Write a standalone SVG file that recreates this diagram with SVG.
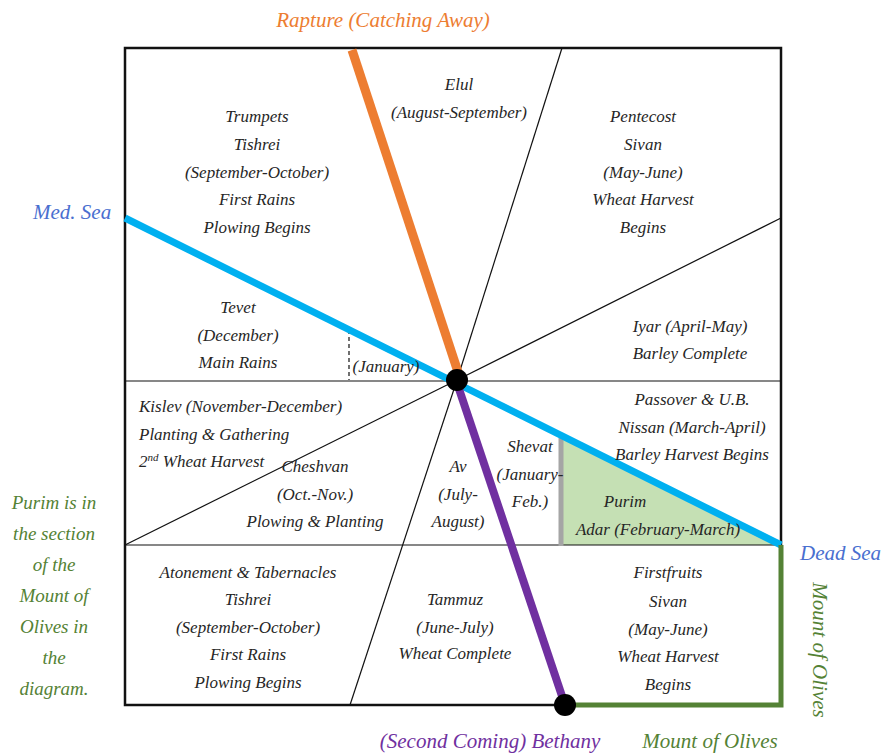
<svg xmlns="http://www.w3.org/2000/svg" width="884" height="754" viewBox="0 0 884 754">
<style>
text{font-family:"Liberation Serif","DejaVu Serif","Times New Roman",serif;font-style:italic}
.t{font-size:17px;fill:#262626;text-anchor:middle}
.l{text-anchor:start}
.big{font-size:21px}
.thin{stroke:#111;stroke-width:1.2;fill:none}
</style>
<rect width="884" height="754" fill="#fff"/>
<g id="connectors">
<polygon points="561,435 781,545 561,545" fill="#C5E0B4"/>
<rect x="125" y="48" width="656" height="657" fill="none" stroke="#111" stroke-width="2.5"/>
<line class="thin" x1="125" y1="381" x2="781" y2="381"/>
<line class="thin" x1="125" y1="545" x2="781" y2="545"/>
<line class="thin" x1="457" y1="380" x2="562" y2="48"/>
<line class="thin" x1="457" y1="380" x2="781" y2="218"/>
<line class="thin" x1="457" y1="380" x2="125" y2="545"/>
<line class="thin" x1="457" y1="380" x2="350" y2="705"/>
<line x1="349" y1="330" x2="349" y2="380" stroke="#111" stroke-width="1.2" stroke-dasharray="4,3"/>
<line x1="561" y1="438" x2="561" y2="546" stroke="#A5A5A5" stroke-width="5"/>
<line x1="125" y1="218" x2="781" y2="545" stroke="#00B0F0" stroke-width="7"/>
<line x1="352" y1="50" x2="459" y2="375" stroke="#ED7D31" stroke-width="9"/>
<line x1="457" y1="383" x2="565" y2="705" stroke="#7030A0" stroke-width="8"/>
<polyline points="565,705 781,705 781,545" fill="none" stroke="#548235" stroke-width="5"/>
<circle cx="457" cy="380" r="11" fill="#000"/>
<circle cx="565" cy="705" r="11" fill="#000"/>
</g>
<g id="elul"><text class="t" x="459" y="90">Elul</text><text class="t" x="459" y="118">(August-September)</text></g>
<g id="trumpets"><text class="t" x="257" y="122">Trumpets</text><text class="t" x="257" y="150">Tishrei</text><text class="t" x="257" y="178">(September-October)</text><text class="t" x="257" y="205">First Rains</text><text class="t" x="257" y="233">Plowing Begins</text></g>
<g id="tevet"><text class="t" x="238" y="313">Tevet</text><text class="t" x="238" y="341">(December)</text><text class="t" x="238" y="368">Main Rains</text></g>
<g id="january"><text class="t" x="386" y="372">(January)</text></g>
<g id="pentecost"><text class="t" x="643" y="122">Pentecost</text><text class="t" x="643" y="150">Sivan</text><text class="t" x="643" y="178">(May-June)</text><text class="t" x="643" y="205">Wheat Harvest</text><text class="t" x="643" y="233">Begins</text></g>
<g id="iyar"><text class="t" x="690" y="332">Iyar (April-May)</text><text class="t" x="690" y="359">Barley Complete</text></g>
<g id="kislev"><text class="t l" x="139" y="412">Kislev (November-December)</text><text class="t l" x="139" y="440">Planting &amp; Gathering</text><text class="t l" x="139" y="467">2<tspan font-size="11" dy="-6">nd</tspan><tspan dy="6"> Wheat Harvest</tspan></text></g>
<g id="cheshvan"><text class="t" x="315" y="472">Cheshvan</text><text class="t" x="315" y="500">(Oct.-Nov.)</text><text class="t" x="315" y="527">Plowing &amp; Planting</text></g>
<g id="av"><text class="t" x="458" y="472">Av</text><text class="t" x="458" y="500">(July-</text><text class="t" x="458" y="527">August)</text></g>
<g id="shevat"><text class="t" x="530" y="452">Shevat</text><text class="t" x="530" y="480">(January-</text><text class="t" x="530" y="507">Feb.)</text></g>
<g id="passover"><text class="t" x="692" y="405">Passover &amp; U.B.</text><text class="t" x="692" y="433">Nissan (March-April)</text><text class="t" x="692" y="460">Barley Harvest Begins</text></g>
<g id="purim"><text class="t" x="625" y="507">Purim</text><text class="t" x="658" y="535">Adar (February-March)</text></g>
<g id="atonement"><text class="t" x="248" y="578">Atonement &amp; Tabernacles</text><text class="t" x="248" y="605">Tishrei</text><text class="t" x="248" y="633">(September-October)</text><text class="t" x="248" y="660">First Rains</text><text class="t" x="248" y="688">Plowing Begins</text></g>
<g id="tammuz"><text class="t" x="455" y="605">Tammuz</text><text class="t" x="455" y="633">(June-July)</text><text class="t" x="455" y="659">Wheat Complete</text></g>
<g id="firstfruits"><text class="t" x="668" y="578">Firstfruits</text><text class="t" x="668" y="607">Sivan</text><text class="t" x="668" y="635">(May-June)</text><text class="t" x="668" y="662">Wheat Harvest</text><text class="t" x="668" y="690">Begins</text></g>
<g id="labels">
<text class="big" x="383" y="27" text-anchor="middle" fill="#ED7D31">Rapture (Catching Away)</text>
<text class="big" x="33" y="219" fill="#4A6FD0" font-size="19">Med. Sea</text>
<text class="big" x="800" y="560" fill="#4A6FD0" font-size="19">Dead Sea</text>
<text class="big" x="490" y="748" text-anchor="middle" fill="#7030A0">(Second Coming) Bethany</text>
<text class="big" x="710" y="748" text-anchor="middle" fill="#548235">Mount of Olives</text>
<text class="big" x="0" y="0" text-anchor="middle" fill="#548235" transform="translate(813,650) rotate(90)">Mount of Olives</text>
<g fill="#548235" font-size="19" text-anchor="middle">
<text x="54" y="509">Purim is in</text><text x="54" y="540">the section</text><text x="54" y="571">of the</text><text x="54" y="602">Mount of</text><text x="54" y="633">Olives in</text><text x="54" y="664">the</text><text x="54" y="695">diagram.</text>
</g>
</g>
</svg>
